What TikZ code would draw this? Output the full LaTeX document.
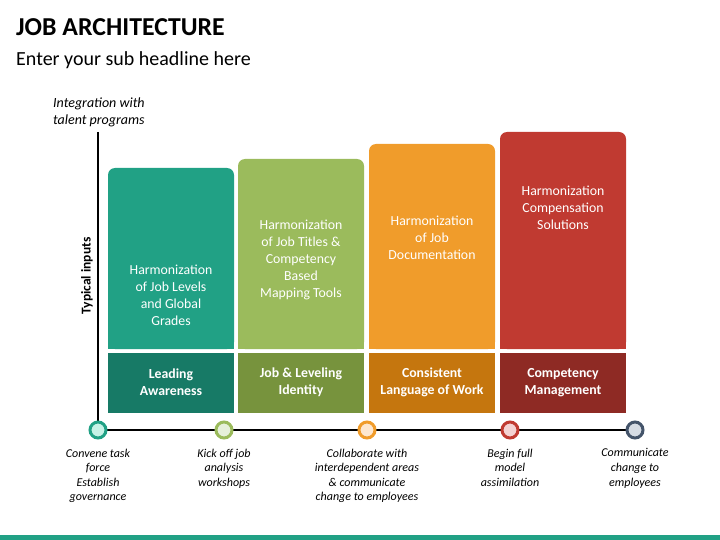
\documentclass[tikz,border=0pt]{standalone}
\usepackage{fontspec}
\setmainfont{Carlito}
\definecolor{tealA}{HTML}{21A185}
\definecolor{tealB}{HTML}{177A66}
\definecolor{tealC}{HTML}{C6F2E6}
\definecolor{greenA}{HTML}{9BBB5C}
\definecolor{greenB}{HTML}{77933D}
\definecolor{greenC}{HTML}{E6F0DA}
\definecolor{orangeA}{HTML}{F09C2B}
\definecolor{orangeB}{HTML}{C5760E}
\definecolor{orangeC}{HTML}{FDE7CF}
\definecolor{redA}{HTML}{C03A31}
\definecolor{redB}{HTML}{8E2A24}
\definecolor{redC}{HTML}{F4D2D2}
\definecolor{slateA}{HTML}{44546A}
\definecolor{slateC}{HTML}{D6DCE4}
\begin{document}
\begin{tikzpicture}[x=1pt,y=-1pt,
  bartext/.style={text=white, align=center, font=\fontsize{13.8}{17}\selectfont, inner sep=0, anchor=north},
  lowtext/.style={text=white, align=center, font=\bfseries\fontsize{13.8}{17}\selectfont, inner sep=0},
  dot/.style={circle, line width=3pt, minimum size=16pt, inner sep=0},
  note/.style={align=center, font=\itshape\fontsize{12}{14.6}\selectfont, inner sep=0, anchor=north},
  axisline/.style={line width=2pt, black}]
\useasboundingbox (0,0) rectangle (720,540);
% titles
\node[anchor=base west, inner sep=0, font=\bfseries\fontsize{25.8}{30}\selectfont] (title) at (16,36) {JOB ARCHITECTURE};
\node[anchor=base west, inner sep=0, font=\fontsize{20}{24}\selectfont] (sub) at (16,66) {Enter your sub headline here};
\node[anchor=north west, inner sep=0, align=left, font=\itshape\fontsize{14}{17}\selectfont] (integ) at (53,98) {Integration with\\talent programs};
\node[rotate=90, inner sep=0, font=\bfseries\fontsize{13.5}{16}\selectfont] (typ) at (87,276) {Typical inputs};
% bars
\fill[tealA, rounded corners=7pt] (108,168) rectangle (234,349);
\fill[tealA] (108,200) rectangle (234,349);
\fill[tealB] (108,353) rectangle (234,413);
\fill[greenA, rounded corners=7pt] (238,159) rectangle (364,349);
\fill[greenA] (238,200) rectangle (364,349);
\fill[greenB] (238,353) rectangle (364,413);
\fill[orangeA, rounded corners=7pt] (369,144) rectangle (495,349);
\fill[orangeA] (369,200) rectangle (495,349);
\fill[orangeB] (369,353) rectangle (495,413);
\fill[redA, rounded corners=7pt] (500,132) rectangle (626,349);
\fill[redA] (500,200) rectangle (626,349);
\fill[redB] (500,353) rectangle (626,413);
% bar texts
\node[bartext] (t1) at (171,265) {Harmonization\\of Job Levels\\and Global\\Grades};
\node[bartext] (t2) at (301,220) {Harmonization\\of Job Titles \&\\Competency\\Based\\Mapping Tools};
\node[bartext] (t3) at (432,216) {Harmonization\\of Job\\Documentation};
\node[bartext] (t4) at (563,186) {Harmonization\\Compensation\\Solutions};
\node[lowtext] (l1) at (171,382.5) {Leading\\Awareness};
\node[lowtext] (l2) at (301,382.5) {Job \& Leveling\\Identity};
\node[lowtext] (l3) at (432,382.5) {Consistent\\Language of Work};
\node[lowtext] (l4) at (563,382.5) {Competency\\Management};
% axes
\coordinate (vtop) at (98,132);
\coordinate (p1) at (98,430);
\coordinate (p2) at (224,430);
\coordinate (p3) at (367,430);
\coordinate (p4) at (510,430);
\coordinate (p5) at (635,430);
\draw[axisline] (vtop) -- (p1) -- (p5);
\node[dot, draw=tealA, fill=tealC] (c1) at (p1) {};
\node[dot, draw=greenA, fill=greenC] (c2) at (p2) {};
\node[dot, draw=orangeA, fill=orangeC] (c3) at (p3) {};
\node[dot, draw=redA, fill=redC] (c4) at (p4) {};
\node[dot, draw=slateA, fill=slateC] (c5) at (p5) {};
% notes
\node[note] (n1) at (98,448.5) {Convene task\\force\\Establish\\governance};
\node[note] (n2) at (224,448.5) {Kick off job\\analysis\\workshops};
\node[note] (n3) at (367,448.5) {Collaborate with\\interdependent areas\\\& communicate\\change to employees};
\node[note] (n4) at (510,448.5) {Begin full\\model\\assimilation};
\node[note] (n5) at (635,448.5) {Communicate\\change to\\employees};
% bottom strip
\fill[tealA] (0,535) rectangle (720,540);
\end{tikzpicture}
\end{document}
